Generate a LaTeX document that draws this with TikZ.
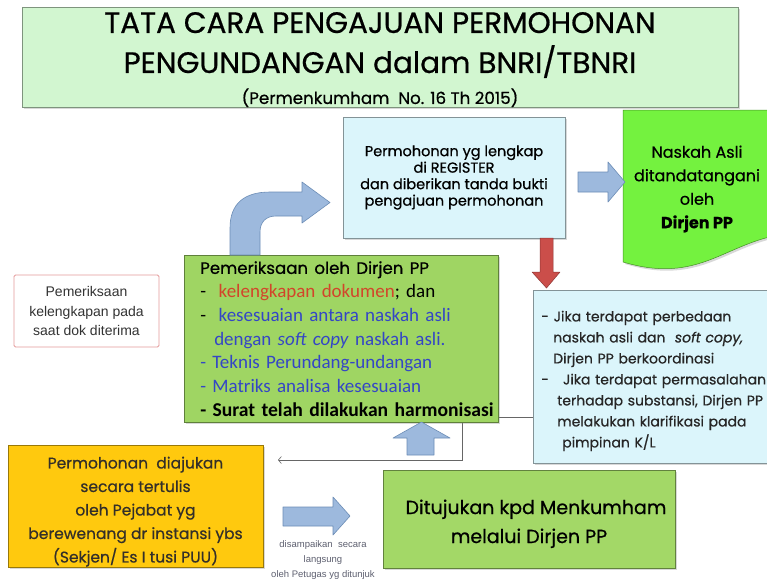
\documentclass[tikz,border=0pt]{standalone}
\usepackage{fontspec}
\setmainfont{Poppins}[FakeBold=0.6]
\newfontfamily\calibri{Carlito}
\newfontfamily\arialsf{Liberation Sans}
\usetikzlibrary{positioning,shadows,arrows.meta}
\definecolor{titlegreen}{HTML}{D2F6D0}
\definecolor{checkgreen}{HTML}{9FD563}
\definecolor{signgreen}{HTML}{74F23F}
\definecolor{sendgreen}{HTML}{A3D867}
\definecolor{regblue}{HTML}{DBF5FB}
\definecolor{reqgold}{HTML}{FFC90E}
\definecolor{arrowblue}{HTML}{9DB9DD}
\definecolor{arrowedge}{HTML}{6C8DB6}
\definecolor{arrowred}{HTML}{CB4E4A}
\definecolor{notered}{HTML}{E49A9A}
\definecolor{wordred}{HTML}{D2452A}
\definecolor{wordblue}{HTML}{3446C6}
\definecolor{capgray}{HTML}{5E6070}
\newcommand\fsz[2]{\fontsize{#1}{#2}\selectfont}
\tikzset{
  panel/.style={draw=#1!60!black, fill=#1, line width=0.5pt, inner sep=0pt,
    drop shadow={opacity=0.3,shadow xshift=2pt,shadow yshift=-2pt}},
  blockarrow/.style={fill=arrowblue, draw=arrowedge, line width=0.6pt, line join=round},
  backline/.style={draw=black!60, line width=0.6pt, -{Straight Barb[length=3pt,width=7pt]}},
}
\begin{document}
\begin{tikzpicture}[x=1pt,y=-1pt]
\useasboundingbox (0,0) rectangle (767,582);
\fill[white] (0,0) rectangle (767,582);
\node[panel=titlegreen, minimum width=716pt, minimum height=98pt, align=center, font=\fsz{29.5}{40}] (title) at (380,57)
  {\rule{0pt}{26pt}TATA CARA PENGAJUAN PERMOHONAN\\PENGUNDANGAN dalam BNRI/TBNRI\\[-9pt]{\fsz{16.7}{20}(Permenkumham\ \ No. 16 Th 2015)}};
\node[panel=regblue, minimum width=222pt, minimum height=121pt, align=center, font=\fsz{14.5}{16.5}] (reg) at (454,177.5)
  {Permohonan yg lengkap\\di REGISTER\\dan diberikan tanda bukti\\pengajuan permohonan};
\filldraw[fill=signgreen, draw=signgreen!60!black, line width=0.5pt, drop shadow={opacity=0.3,shadow xshift=2pt,shadow yshift=-2pt}]
  (623,110) -- (785,110) -- (785,234) .. controls (725,242) and (700,285) .. (623,262) -- cycle;
\node[align=center, font=\fsz{16}{23.5}] (naskah) at (697,189) {Naskah Asli\\ditandatangani\\oleh\\\textbf{Dirjen PP}};
\node[panel=regblue, minimum width=247pt, minimum height=173pt, anchor=north west, inner xsep=8pt, text width=231pt,
  align=left, font=\fsz{14}{21}, text=black!85] (jika) at (533,290)
  {\rule{0pt}{19pt}- Jika terdapat perbedaan\\
   \hspace*{12pt}naskah asli dan\ \ \textit{soft copy,}\\
   \hspace*{12pt}Dirjen PP berkoordinasi\\
   \mbox{-\hspace{14pt}Jika terdapat permasalahan}\\
   \hspace*{16pt}terhadap substansi, Dirjen PP\\
   \hspace*{16pt}melakukan klarifikasi pada\\
   \hspace*{21pt}pimpinan K/L};
\coordinate (ret) at (278,460);
\draw[backline] ([yshift=-40.5pt]jika.west) -| (462,460) -- (ret);
\node[panel=checkgreen, minimum width=314pt, minimum height=167pt, anchor=north west, inner xsep=16pt, text width=282pt,
  align=left, font=\calibri\fsz{19}{23.7}] (periksa) at (184,255)
  {{\rmfamily\fsz{16.6}{23.7}Pemeriksaan oleh Dirjen PP}\\
   -\ \ {\color{wordred}kelengkapan dokumen}; dan\\
   -\ \ {\color{wordblue}kesesuaian antara naskah asli}\\
   \hspace*{14pt}{\color{wordblue}dengan \textit{soft copy} naskah asli.}\\
   {\color{wordblue}- Teknis Perundang-undangan}\\
   {\color{wordblue}- Matriks analisa kesesuaian}\\
   \mbox{\bfseries\fsz{19.6}{23.7}- Surat telah dilakukan harmonisasi}};
\node[draw=notered, fill=white, line width=0.8pt, rounded corners=1.5pt, minimum width=145pt, minimum height=72pt,
  align=center, font=\arialsf\fsz{14}{19.5}, text=black!80] (cek) at (86.5,311)
  {Pemeriksaan\\kelengkapan pada\\saat dok diterima};
\node[panel=reqgold, minimum width=255pt, minimum height=122pt, align=center, font=\fsz{15.5}{23.5}, text=black!85!olive] (mohon) at (135.5,506)
  {\rule{0pt}{23pt}Permohonan\ \ diajukan\\secara tertulis\\oleh Pejabat yg\\berewenang dr instansi ybs\\(Sekjen/ Es I tusi PUU)};
\node[panel=sendgreen, minimum width=292pt, minimum height=98pt, align=center, font=\fsz{19}{29}] (tuju) at (529,519)
  {\rule{0pt}{24pt}\hspace*{14pt}Ditujukan kpd Menkumham\\melalui Dirjen PP};
\node[align=center, font=\arialsf\fsz{9.5}{15}, text=capgray] (antar) at (323,560)
  {disampaikan\ \ secara\\langsung\\oleh Petugas yg ditunjuk};
\filldraw[blockarrow] (230,255) -- (230,228) .. controls (230,203) and (245,192) .. (270,192) -- (302,192) -- (302,182)
  -- (330,202.5) -- (302,223) -- (302,216) -- (276,216) .. controls (266,216) and (260,222) .. (260,232) -- (260,255) -- cycle;
\filldraw[blockarrow] (578,172) -- (608,172) -- (608,162) -- (625,182) -- (608,202) -- (608,192) -- (578,192) -- cycle;
\filldraw[fill=arrowred, draw=arrowred!70!black, line width=0.5pt, line join=round]
  (540,238) -- (553,238) -- (553,272) -- (560,272) -- (546.5,288) -- (532,272) -- (540,272) -- cycle;
\filldraw[blockarrow] (407,455) -- (407,438) -- (393,438) -- (421.5,422) -- (450,438) -- (434,438) -- (434,455) -- cycle;
\filldraw[blockarrow] (283,507) -- (333,507) -- (333,497) -- (350,516) -- (333,535) -- (333,526) -- (283,526) -- cycle;
\end{tikzpicture}
\end{document}
